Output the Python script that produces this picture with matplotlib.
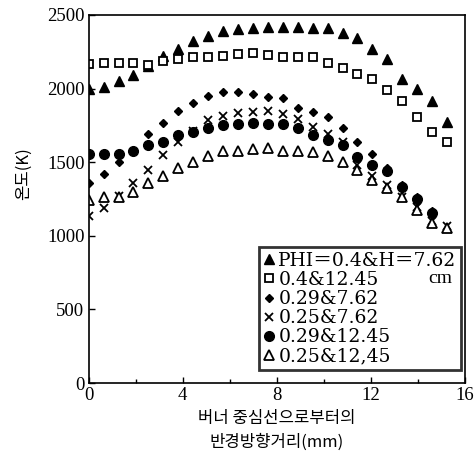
import matplotlib
matplotlib.use("Agg")
import matplotlib.pyplot as plt
import numpy as np

## radial position (mm): 25 stations, 0.635 mm apart
r = [0.0, 0.635, 1.27, 1.905, 2.54, 3.175, 3.81, 4.445, 5.08, 5.715, 6.35, 6.985, 7.62,
     8.255, 8.89, 9.525, 10.16, 10.795, 11.43, 12.065, 12.7, 13.335, 13.97, 14.605, 15.24]

## temperature (K) for each case
t_04_762 = [1995, 2009, 2054, 2092, 2150, 2223, 2269, 2325, 2359, 2391, 2405, 2414, 2420,
            2420, 2420, 2414, 2410, 2375, 2342, 2269, 2201, 2065, 1995, 1918, 1775]
t_04_1245 = [2167, 2172, 2172, 2172, 2162, 2189, 2201, 2212, 2216, 2223, 2235, 2240, 2228,
             2216, 2216, 2216, 2176, 2138, 2099, 2063, 1990, 1918, 1809, 1703, 1635]
t_029_762 = [1357, 1418, 1499, 1575, 1691, 1768, 1850, 1900, 1950, 1975, 1979, 1963, 1945,
             1934, 1870, 1843, 1805, 1730, 1639, 1553, 1460, 1345, 1262, 1168]
t_025_762 = [1134, 1187, 1270, 1357, 1447, 1549, 1639, 1710, 1786, 1814, 1832, 1839, 1848,
             1825, 1791, 1741, 1691, 1635, 1481, 1406, 1345, 1266, 1198, 1100, 1066]
t_029_1245 = [1556, 1556, 1556, 1578, 1617, 1639, 1685, 1707, 1730, 1753, 1757, 1764, 1757,
              1757, 1730, 1685, 1651, 1617, 1533, 1481, 1442, 1329, 1248, 1153]
t_025_1245 = [1243, 1266, 1266, 1300, 1361, 1406, 1458, 1503, 1542, 1576, 1576, 1588, 1594,
              1576, 1576, 1571, 1542, 1503, 1447, 1379, 1323, 1266, 1175, 1085, 1055]

labels = ["PHI＝0.4&H＝7.62", "0.4&12.45", "0.29&7.62",
          "0.25&7.62", "0.29&12.45", "0.25&12,45"]

serif = ["Liberation Serif", "DejaVu Serif"]
kor = ["Noto Sans CJK KR", "DejaVu Sans"]

fig = plt.figure(figsize=(4.74, 4.53), dpi=100)
ax = fig.add_axes([0.187, 0.1545, 0.794, 0.8125])

ax.plot(r, t_04_762, ls="none", marker="^", ms=7, color="black", label=labels[0])
ax.plot(r, t_04_1245, ls="none", marker="s", ms=6, mfc="white", mec="black", mew=1.3, label=labels[1])
ax.plot(r[:len(t_029_762)], t_029_762, ls="none", marker="D", ms=4.5, color="black", label=labels[2])
ax.plot(r, t_025_762, ls="none", marker="x", ms=6, color="black", mew=1.3, label=labels[3])
ax.plot(r[:len(t_029_1245)], t_029_1245, ls="none", marker="o", ms=7, color="black", label=labels[4])
ax.plot(r, t_025_1245, ls="none", marker="^", ms=6.5, mfc="white", mec="black", mew=1.3, label=labels[5])

ax.set_xlim(0, 16)
ax.set_ylim(0, 2500)
ax.set_xticks([0, 4, 8, 12, 16])
ax.set_xticks([2, 6, 10, 14], minor=True)
ax.set_yticks([0, 500, 1000, 1500, 2000, 2500])
ax.tick_params(direction="in", length=4, width=1, labelsize=13.5, pad=3)
ax.tick_params(which="minor", direction="in", length=3, width=1)
for lab in ax.get_xticklabels() + ax.get_yticklabels():
    lab.set_family(serif)
for sp in ax.spines.values():
    sp.set_linewidth(1.2)

ax.set_xlabel("버너 중심선으로부터의\n반경방향거리(mm)", family=kor, fontsize=12, linespacing=1.5)
ax.set_ylabel("온도(K)", family=kor, fontsize=12)
ax.yaxis.set_label_coords(-0.15, 0.57)

leg = ax.legend(loc="lower right", bbox_to_anchor=(0.99, 0.035), frameon=True, fancybox=False,
                handlelength=0.6, handletextpad=0.2, borderpad=0.25, labelspacing=0.06,
                borderaxespad=0, prop={"family": ["DejaVu Serif", "Noto Sans CJK KR"], "size": 13.5})
leg.get_frame().set_edgecolor("black")
leg.get_frame().set_linewidth(2)
ax.text(0.935, 0.283, "cm", transform=ax.transAxes, family=serif, fontsize=14,
        ha="center", va="center", zorder=10)

fig.savefig("out.png", dpi=100)
